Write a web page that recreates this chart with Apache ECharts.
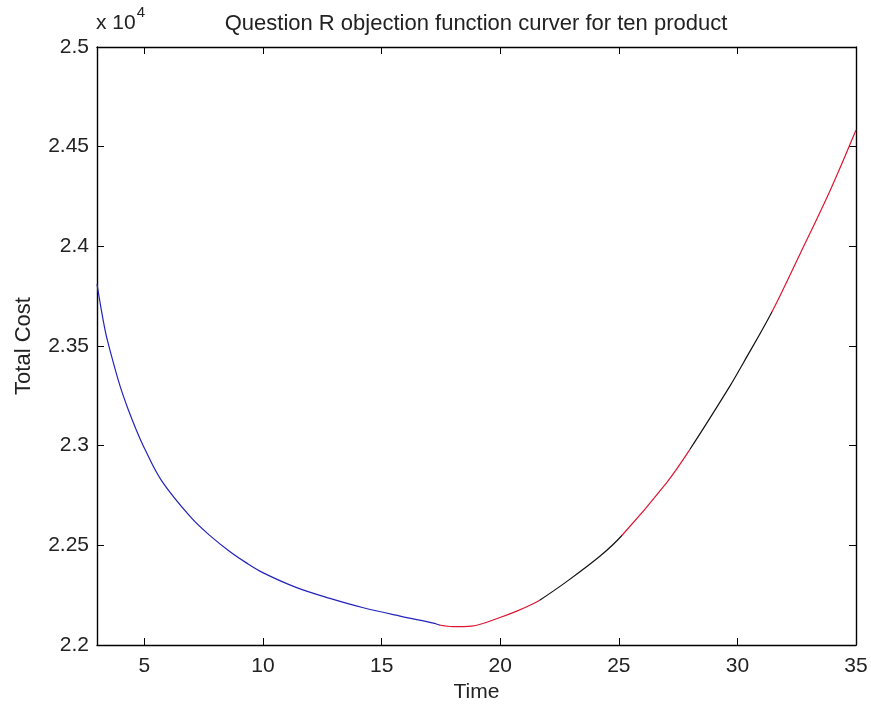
<!DOCTYPE html>
<html>
<head>
<meta charset="utf-8">
<script src="https://cdn.jsdelivr.net/npm/echarts@6/dist/echarts.min.js"></script>
<style>html,body{margin:0;padding:0;background:#fff}#c{width:871px;height:709px}</style>
</head>
<body>
<div id="c"></div>
<script>
// Data
const time = [3.0, 3.34, 3.62, 3.97, 4.32, 4.67, 5.02, 5.72, 6.99, 7.8, 8.61, 9.3, 10.01, 11.42, 12.82, 14.23, 15.78, 17.18, 17.46,
              18.0, 18.8, 19.99, 20.7, 21.39, 21.68, 22.8, 24.2, 25.12, 27.02, 28.0, 29.69, 30.25, 31.46, 32.64, 33.9, 35.0];
const cost = [23810, 23580, 23447, 23300, 23180, 23075, 22982, 22825, 22636, 22545, 22468, 22412, 22362, 22288, 22234, 22187, 22145, 22110, 22100,
              22092, 22095, 22138, 22170, 22207, 22226, 22318, 22445, 22548, 22815, 22982, 23300, 23415, 23672, 23962, 24278, 24584];
// times at which the line colour changes
const colorBreaks = [3, 17.46, 21.68, 25.12, 28.0, 31.46, 35];
const segmentColors = ['#2323bb', '#dd1530', '#111111', '#dd1530', '#111111', '#dd1530'];
const xTicks = [5, 10, 15, 20, 25, 30, 35];
const titleText = 'Question R objection function curver for ten product';
const xName = 'Time';
const yName = 'Total Cost';

const FONT = 'Liberation Sans';
const pieces = [];
for (let s = 0; s < colorBreaks.length - 1; s++) {
  const p = { color: segmentColors[s] };
  p.gte = s === 0 ? -1000 : colorBreaks[s];
  p.lt = s === colorBreaks.length - 2 ? 1000 : colorBreaks[s + 1];
  pieces.push(p);
}

const chart = echarts.init(document.getElementById('c'), null, { renderer: 'canvas' });
const axisLineStyle = { show: true, lineStyle: { color: '#000', width: 1.4 } };
chart.setOption({
  animation: false,
  backgroundColor: '#fff',
  title: {
    text: titleText, left: 471, top: 8, textAlign: 'center',
    textStyle: { fontFamily: FONT, fontSize: 22, fontWeight: 'normal', color: '#222' }
  },
  grid: { left: 97, right: 15, top: 47, bottom: 64, containLabel: false },
  visualMap: { type: 'piecewise', show: false, dimension: 0, seriesIndex: 0, pieces: pieces },
  xAxis: [{
    type: 'value', min: 3, max: 35, position: 'bottom',
    name: xName, nameLocation: 'middle', nameGap: 33,
    nameTextStyle: { fontFamily: FONT, fontSize: 21, color: '#222' },
    axisLine: axisLineStyle,
    axisTick: { show: true, inside: true, length: 7, customValues: xTicks, lineStyle: { color: '#000' } },
    axisLabel: { customValues: xTicks, fontFamily: FONT, fontSize: 21, color: '#222', margin: 11 },
    splitLine: { show: false }
  }, {
    type: 'value', min: 3, max: 35, position: 'top',
    axisLine: axisLineStyle,
    axisTick: { show: true, inside: true, length: 7, customValues: xTicks, lineStyle: { color: '#000' } },
    axisLabel: { show: false },
    splitLine: { show: false }
  }],
  yAxis: [{
    type: 'value', min: 22000, max: 25000, interval: 500, position: 'left',
    name: yName, nameLocation: 'middle', nameGap: 62, nameRotate: 90,
    nameTextStyle: { fontFamily: FONT, fontSize: 22, color: '#222' },
    axisLine: axisLineStyle,
    axisTick: { show: true, inside: true, length: 7, lineStyle: { color: '#000' } },
    axisLabel: {
      fontFamily: FONT, fontSize: 21, color: '#222', margin: 8,
      formatter: v => String(+(v / 10000).toFixed(2))
    },
    splitLine: { show: false }
  }, {
    type: 'value', min: 22000, max: 25000, interval: 500, position: 'right',
    axisLine: axisLineStyle,
    axisTick: { show: true, inside: true, length: 7, lineStyle: { color: '#000' } },
    axisLabel: { show: false },
    splitLine: { show: false }
  }],
  graphic: [{
    type: 'text', left: 96, top: 5,
    style: {
      text: '{b|x 10}{s|4}',
      rich: {
        b: { fontFamily: FONT, fontSize: 21, fill: '#222', verticalAlign: 'bottom', padding: [8, 0, 0, 0] },
        s: { fontFamily: FONT, fontSize: 15, fill: '#222', verticalAlign: 'top', padding: [0, 0, 10, 1] }
      }
    }
  }],
  series: [{
    type: 'line', data: time.map((t, i) => [t, cost[i]]), showSymbol: false, smooth: 0.35, silent: true,
    xAxisIndex: 0, yAxisIndex: 0,
    lineStyle: { width: 1.2 }
  }]
});
</script>
</body>
</html>
